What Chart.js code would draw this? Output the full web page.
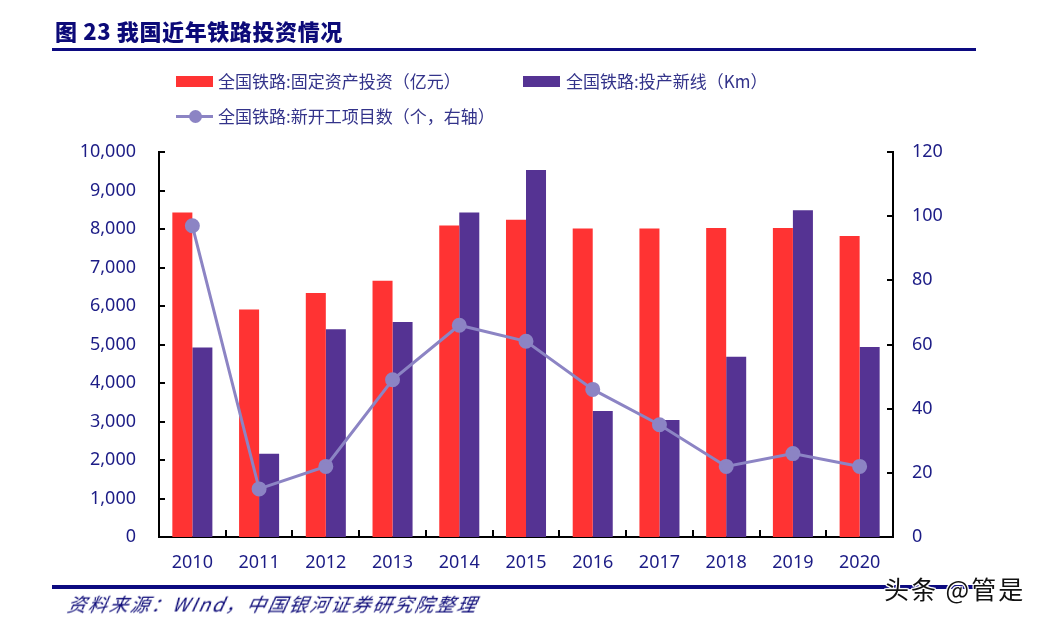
<!DOCTYPE html>
<html><head><meta charset="utf-8">
<script src="https://cdn.jsdelivr.net/npm/chart.js@4.4.1/dist/chart.umd.min.js"></script>
<style>
html,body{margin:0;padding:0;background:#fff;width:1043px;height:619px;overflow:hidden;font-family:"Noto Sans CJK SC","Noto Sans",sans-serif;}
#wrap{position:relative;width:1043px;height:619px;}
canvas{position:absolute;left:0;top:0;}
.title{position:absolute;left:55px;top:14px;font-size:22px;font-weight:900;color:#0c0a78;letter-spacing:0.6px;white-space:nowrap;}
.hr{position:absolute;background:#0c0a80;}
.foot{position:absolute;left:68px;top:590px;font-size:19px;letter-spacing:2px;font-style:italic;color:#0c0a78;white-space:nowrap;transform:skewX(-12deg);}
.leg{position:absolute;font-size:17px;color:#33338a;white-space:nowrap;line-height:20px;}
.box{position:absolute;}
.wm{position:absolute;left:884px;top:570px;font-size:25px;letter-spacing:2px;color:#111;white-space:nowrap;text-shadow:0 0 2px #fff,0 0 2px #fff,1px 1px 0 #fff,-1px -1px 0 #fff,1px -1px 0 #fff,-1px 1px 0 #fff;}
</style></head><body>
<div id="wrap">
<canvas id="c" width="1043" height="619"></canvas>
<div class="title">图 23 我国近年铁路投资情况</div>
<div class="hr" style="left:52px;top:48px;width:924px;height:3px;"></div>
<div class="box" style="left:176px;top:76px;width:37px;height:11px;background:#ff3333;"></div>
<div class="leg" style="left:218px;top:71px;">全国铁路:固定资产投资（亿元）</div>
<div class="box" style="left:523px;top:76px;width:37px;height:11px;background:#553393;"></div>
<div class="leg" style="left:566px;top:71px;">全国铁路:投产新线（Km）</div>
<div class="box" style="left:176px;top:115px;width:37px;height:3px;background:#8c84c4;"></div>
<div class="box" style="left:189px;top:110px;width:13px;height:13px;border-radius:50%;background:#8c84c4;"></div>
<div class="leg" style="left:218px;top:106px;">全国铁路:新开工项目数（个，右轴）</div>
<div class="hr" style="left:52px;top:585px;width:924px;height:4px;"></div>
<div class="foot">资料来源：WInd，中国银河证券研究院整理</div>
<div class="wm">头条 @管是</div>
</div>
<script>
const categories = ["2010","2011","2012","2013","2014","2015","2016","2017","2018","2019","2020"];
const investment = [8426, 5906, 6339, 6657, 8088, 8238, 8015, 8010, 8028, 8029, 7819];
const newLines = [4920, 2160, 5394, 5586, 8427, 9531, 3272, 3038, 4683, 8489, 4933];
const newProjects = [97, 15, 22, 49, 66, 61, 46, 35, 22, 26, 22];
const leftTicks = [0,1000,2000,3000,4000,5000,6000,7000,8000,9000,10000];
const rightTicks = [0,20,40,60,80,100,120];

const tickColor = "#1c1c86";
const tickFont = {family:"'Noto Sans','Open Sans',sans-serif", size:18};

const tickPlugin = {
  id:'innerTicks',
  afterDraw(chart){
    const ctx = chart.ctx, a = chart.chartArea;
    ctx.save();
    ctx.strokeStyle = '#000'; ctx.lineWidth = 2;
    const y = chart.scales.y, y1 = chart.scales.y1, x = chart.scales.x;
    y.ticks.forEach(t=>{const p=Math.round(y.getPixelForValue(t.value));ctx.beginPath();ctx.moveTo(a.left,p);ctx.lineTo(a.left+6,p);ctx.stroke();});
    y1.ticks.forEach(t=>{const p=Math.round(y1.getPixelForValue(t.value));ctx.beginPath();ctx.moveTo(a.right-6,p);ctx.lineTo(a.right,p);ctx.stroke();});
    for(let i=0;i<categories.length-1;i++){
      const p=Math.round((x.getPixelForTick(i)+x.getPixelForTick(i+1))/2);
      ctx.beginPath();ctx.moveTo(p,a.bottom);ctx.lineTo(p,a.bottom-7);ctx.stroke();
    }
    ctx.restore();
  }
};

new Chart(document.getElementById('c'),{
  data:{
    labels:categories,
    datasets:[
      {type:'line',label:'全国铁路:新开工项目数（个，右轴）',data:newProjects,yAxisID:'y1',borderColor:'#8c84c4',backgroundColor:'#8c84c4',borderWidth:3,pointRadius:6,pointHoverRadius:6,tension:0,order:0},
      {type:'bar',label:'全国铁路:固定资产投资（亿元）',data:investment,yAxisID:'y',backgroundColor:'#ff3333',categoryPercentage:0.6,barPercentage:1.0,order:1},
      {type:'bar',label:'全国铁路:投产新线（Km）',data:newLines,yAxisID:'y',backgroundColor:'#553393',categoryPercentage:0.6,barPercentage:1.0,order:1}
    ]
  },
  options:{
    responsive:false,animation:false,
    layout:{padding:{top:152,left:0,right:0,bottom:0}},
    plugins:{legend:{display:false},tooltip:{enabled:false}},
    scales:{
      x:{grid:{display:false,drawTicks:false},border:{display:true,color:'#000',width:2},
         ticks:{color:tickColor,font:tickFont,padding:15,maxRotation:0},
         afterFit(s){s.height=82;}},
      y:{position:'left',min:0,max:10000,grid:{display:false,drawTicks:false},border:{display:true,color:'#000',width:2},
         afterBuildTicks(s){s.ticks=leftTicks.map(v=>({value:v}));},
         ticks:{color:tickColor,font:tickFont,padding:23,callback:v=>v.toLocaleString('en-US')},
         afterFit(s){s.width=159;}},
      y1:{position:'right',min:0,max:120,grid:{display:false,drawTicks:false},border:{display:true,color:'#000',width:2},
         afterBuildTicks(s){s.ticks=rightTicks.map(v=>({value:v}));},
         ticks:{color:tickColor,font:tickFont,padding:19},
         afterFit(s){s.width=150;}}
    }
  },
  plugins:[tickPlugin]
});
</script>
</body></html>
